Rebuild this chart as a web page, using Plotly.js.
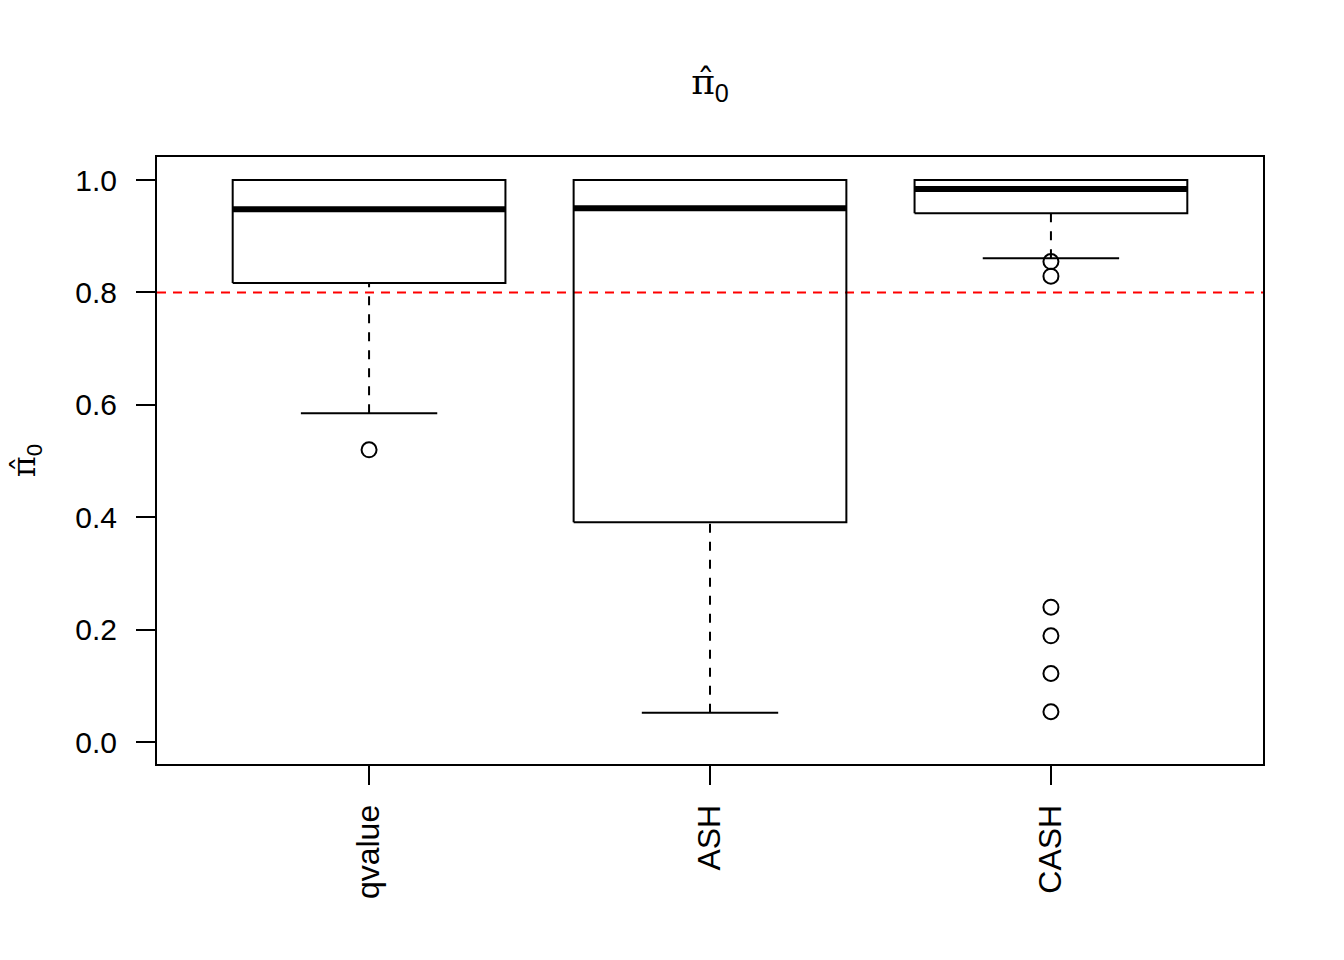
<!DOCTYPE html>
<html>
<head>
<meta charset="utf-8">
<script src="https://cdn.plot.ly/plotly-3.0.1.min.js"></script>
<style>html,body{margin:0;padding:0;background:#fff;}</style>
</head>
<body>
<div id="chart" style="width:1344px;height:960px;"></div>
<script>
// Data
const categories = ["qvalue", "ASH", "CASH"];
const q1 = [0.817, 0.391, 0.941];
const medians = [0.948, 0.950, 0.984];
const q3 = [1.0, 1.0, 1.0];
const lowerWhisker = [0.585, 0.052, 0.861];
const upperWhisker = [1.0, 1.0, 1.0];
const outliers = [
  [0.520],
  [],
  [0.855, 0.829, 0.240, 0.189, 0.122, 0.054]
];
const referenceLine = 0.8;
const yTicks = [0.0, 0.2, 0.4, 0.6, 0.8, 1.0];
const yTickText = ["0.0", "0.2", "0.4", "0.6", "0.8", "1.0"];

const boxHalf = 0.4, stapleHalf = 0.2;
const traces = [];
categories.forEach((c, i) => {
  const x = i + 1;
  traces.push({x: [x-boxHalf, x+boxHalf, x+boxHalf, x-boxHalf, x-boxHalf],
    y: [q1[i], q1[i], q3[i], q3[i], q1[i]], mode: 'lines',
    line: {color: '#000', width: 2}, hoverinfo: 'skip', showlegend: false});
  traces.push({x: [x-boxHalf, x+boxHalf], y: [medians[i], medians[i]], mode: 'lines',
    line: {color: '#000', width: 6}, hoverinfo: 'skip', showlegend: false});
  traces.push({x: [x, x], y: [lowerWhisker[i], q1[i]], mode: 'lines',
    line: {color: '#000', width: 2, dash: '9px,9px'}, hoverinfo: 'skip', showlegend: false});
  traces.push({x: [x, x], y: [q3[i], upperWhisker[i]], mode: 'lines',
    line: {color: '#000', width: 2, dash: '9px,9px'}, hoverinfo: 'skip', showlegend: false});
  traces.push({x: [x-stapleHalf, x+stapleHalf], y: [lowerWhisker[i], lowerWhisker[i]], mode: 'lines',
    line: {color: '#000', width: 2}, hoverinfo: 'skip', showlegend: false});
  traces.push({x: [x-stapleHalf, x+stapleHalf], y: [upperWhisker[i], upperWhisker[i]], mode: 'lines',
    line: {color: '#000', width: 2}, hoverinfo: 'skip', showlegend: false});
  if (outliers[i].length) {
    traces.push({x: outliers[i].map(() => x), y: outliers[i], mode: 'markers',
      marker: {symbol: 'circle-open', size: 15, color: '#000', line: {width: 2, color: '#000'}},
      hoverinfo: 'skip', showlegend: false});
  }
});

const font = "'Liberation Sans', Arial, Helvetica, sans-serif";
const piHat = '<span style="font-family:\'DejaVu Serif\'">π\u0302</span><sub>0</sub>';
const layout = {
  width: 1344, height: 960,
  paper_bgcolor: '#fff', plot_bgcolor: '#fff',
  margin: {l: 157, r: 81, t: 157, b: 196},
  font: {family: font, color: '#000', size: 30},
  title: {text: piHat, xref: 'paper', x: 0.5, xanchor: 'center', y: 0.915, yanchor: 'middle',
    font: {family: font, size: 36, color: '#000'}},
  xaxis: {range: [0.378, 3.622], tickmode: 'array', tickvals: categories.map((c, i) => i + 1),
    ticktext: categories, tickangle: -90, ticks: 'outside', ticklen: 19, tickwidth: 2,
    tickcolor: '#000', showline: true, linecolor: '#000', linewidth: 2, mirror: true,
    showgrid: false, zeroline: false, ticklabelstandoff: 7, tickfont: {size: 32}},
  yaxis: {range: [-0.039, 1.041], tickmode: 'array', tickvals: yTicks, ticktext: yTickText,
    ticks: 'outside', ticklen: 19, tickwidth: 2, tickcolor: '#000', showline: true,
    linecolor: '#000', linewidth: 2, mirror: true, showgrid: false, zeroline: false,
    ticklabelstandoff: 13, tickfont: {size: 30},
    title: {text: piHat, standoff: 30, font: {size: 32}}},
  shapes: [{type: 'line', xref: 'paper', x0: 0, x1: 1, yref: 'y', y0: referenceLine, y1: referenceLine,
    line: {color: '#ff0000', width: 2, dash: '9px,7px'}, layer: 'below'}]
};
Plotly.newPlot('chart', traces, layout, {displayModeBar: false, staticPlot: true});
</script>
</body>
</html>
